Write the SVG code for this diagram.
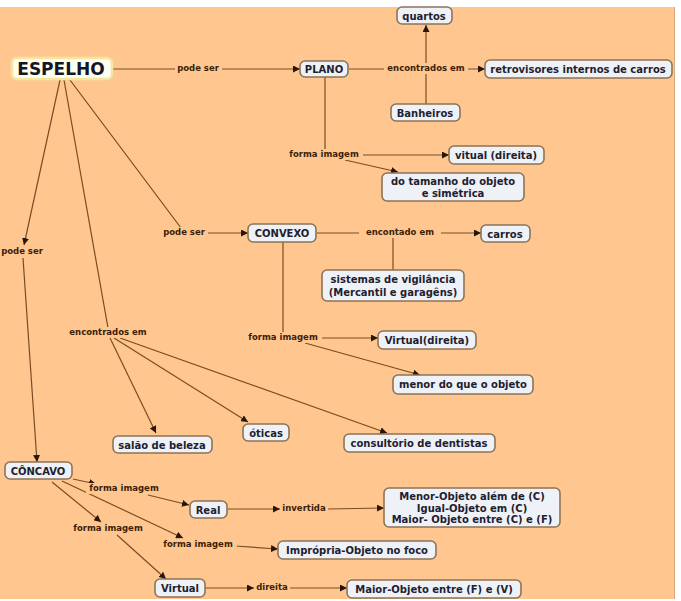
<svg xmlns="http://www.w3.org/2000/svg" width="681" height="601" viewBox="0 0 681 601">
<style>
.n rect{fill:#EEF2F6;stroke:#8C7358;stroke-width:1.6}
.n text{font-family:"DejaVu Sans",Verdana,sans-serif;font-weight:bold;font-size:10px;fill:#1E2030;text-anchor:middle}
.l rect{fill:#FFC78F;stroke:none}
.l text{font-family:"DejaVu Sans",Verdana,sans-serif;font-weight:bold;font-size:8.5px;fill:#3C1E08;text-anchor:middle}
#connectors line{stroke:#7A4C22;stroke-width:1.2;fill:none}
.a{marker-end:url(#ah)}
</style>
<defs>
<marker id="ah" viewBox="0 0 10 10" refX="10" refY="5" markerWidth="7" markerHeight="7" markerUnits="userSpaceOnUse" orient="auto">
<path d="M0,0 L10,5 L0,10 z" fill="#2A1606"/>
</marker>
</defs>
<rect x="0" y="0" width="681" height="601" fill="#FFFFFF"/>
<rect x="0" y="7" width="674" height="592" fill="#FFC78F"/>
<line x1="674.5" y1="7" x2="674.5" y2="599" stroke="#D9A878" stroke-width="1"/>

<g id="connectors">
<line x1="113" y1="69" x2="300" y2="69" class="a"/>
<line x1="349" y1="69" x2="485" y2="69" class="a"/>
<line x1="426" y1="104" x2="426" y2="25" class="a"/>
<line x1="325" y1="77" x2="325" y2="150"/>
<line x1="350" y1="155" x2="449" y2="155" class="a"/>
<line x1="345" y1="160" x2="398" y2="172" class="a"/>
<line x1="70" y1="80" x2="181" y2="228"/>
<line x1="208" y1="233" x2="248" y2="233" class="a"/>
<line x1="317" y1="233" x2="481" y2="233" class="a"/>
<line x1="393" y1="270" x2="393" y2="236"/>
<line x1="283" y1="242" x2="283" y2="334"/>
<line x1="310" y1="338" x2="378" y2="338" class="a"/>
<line x1="305" y1="343" x2="420" y2="375" class="a"/>
<line x1="60" y1="80" x2="24" y2="245" class="a"/>
<line x1="23" y1="258" x2="37" y2="462" class="a"/>
<line x1="64" y1="80" x2="108" y2="328"/>
<line x1="110" y1="338" x2="156" y2="433" class="a"/>
<line x1="114" y1="338" x2="248" y2="422" class="a"/>
<line x1="120" y1="338" x2="387" y2="433" class="a"/>
<line x1="73" y1="479" x2="96" y2="484" class="a"/>
<line x1="148" y1="495" x2="189" y2="505" class="a"/>
<line x1="52" y1="482" x2="101" y2="522" class="a"/>
<line x1="62" y1="481" x2="183" y2="538" class="a"/>
<line x1="117" y1="535" x2="166" y2="579" class="a"/>
<line x1="235" y1="546" x2="278" y2="549" class="a"/>
<line x1="228" y1="509" x2="280" y2="509" class="a"/>
<line x1="328" y1="509" x2="384" y2="508" class="a"/>
<line x1="205" y1="588" x2="254" y2="588" class="a"/>
<line x1="289" y1="588" x2="347" y2="588" class="a"/>
</g>

<g id="labels">
<g class="l"><rect x="175" y="63" width="47" height="11"/><text x="198" y="71">pode ser</text></g>
<g class="l"><rect x="384" y="63" width="84" height="11"/><text x="426" y="71">encontrados em</text></g>
<g class="l"><rect x="285" y="149" width="78" height="11"/><text x="324" y="157">forma imagem</text></g>
<g class="l"><rect x="160" y="227" width="48" height="11"/><text x="184" y="235">pode ser</text></g>
<g class="l"><rect x="359" y="227" width="82" height="11"/><text x="400" y="235">encontado em</text></g>
<g class="l"><rect x="244" y="332" width="78" height="11"/><text x="283" y="340">forma imagem</text></g>
<g class="l"><rect x="66" y="327" width="86" height="11"/><text x="108" y="335">encontrados em</text></g>
<g class="l"><rect x="0" y="246" width="46" height="11"/><text x="22" y="254">pode ser</text></g>
<g class="l"><rect x="86" y="483" width="77" height="11"/><text x="124" y="491">forma imagem</text></g>
<g class="l"><rect x="70" y="523" width="77" height="11"/><text x="108" y="531">forma imagem</text></g>
<g class="l"><rect x="159" y="539" width="78" height="11"/><text x="198" y="547">forma imagem</text></g>
<g class="l"><rect x="281" y="503" width="47" height="11"/><text x="304" y="511">invertida</text></g>
<g class="l"><rect x="254" y="582" width="36" height="11"/><text x="272" y="590">direita</text></g>
</g>

<g id="espelho"><rect x="12" y="58" width="100" height="21" rx="5" fill="#FFFEF0" stroke="#F3E6A0" stroke-width="2.5"/><text x="61" y="75" font-family="DejaVu Sans,Verdana,sans-serif" font-weight="bold" font-size="17" fill="#141626" text-anchor="middle">ESPELHO</text></g>
<g id="plano" class="n"><rect x="300" y="61" width="48" height="16" rx="5"/><text x="324" y="72.5">PLANO</text></g>
<g id="quartos" class="n"><rect x="397" y="7" width="55" height="17" rx="5"/><text x="424" y="19.5">quartos</text></g>
<g id="retrovisores" class="n"><rect x="485" y="60" width="187" height="18" rx="5"/><text x="578" y="73">retrovisores internos de carros</text></g>
<g id="banheiros" class="n"><rect x="391" y="104" width="69" height="17" rx="5"/><text x="425" y="116.5">Banheiros</text></g>
<g id="vitual" class="n"><rect x="449" y="146" width="95" height="18" rx="5"/><text x="496" y="159">vitual (direita)</text></g>
<g id="tamanho" class="n"><rect x="382" y="173" width="142" height="28" rx="5"/><text x="453" y="185">do tamanho do objeto</text><text x="453" y="197">e simétrica</text></g>
<g id="convexo" class="n"><rect x="248" y="224" width="68" height="18" rx="5"/><text x="282" y="237">CONVEXO</text></g>
<g id="carros" class="n"><rect x="481" y="225" width="49" height="17" rx="5"/><text x="505" y="237.5">carros</text></g>
<g id="sistemas" class="n"><rect x="322" y="270" width="142" height="31" rx="5"/><text x="393" y="283">sistemas de vigilância</text><text x="393" y="296">(Mercantil e garagêns)</text></g>
<g id="virtual-direita" class="n"><rect x="378" y="331" width="98" height="18" rx="5"/><text x="427" y="344">Virtual(direita)</text></g>
<g id="menor" class="n"><rect x="393" y="375" width="140" height="19" rx="5"/><text x="463" y="388">menor do que o objeto</text></g>
<g id="salao" class="n"><rect x="113" y="436" width="99" height="17" rx="5"/><text x="162" y="448.5">salão de beleza</text></g>
<g id="oticas" class="n"><rect x="243" y="424" width="46" height="17" rx="5"/><text x="266" y="436.5">óticas</text></g>
<g id="consultorio" class="n"><rect x="344" y="434" width="151" height="18" rx="5"/><text x="419" y="447">consultório de dentistas</text></g>
<g id="concavo" class="n"><rect x="5" y="462" width="67" height="17" rx="5"/><text x="38" y="474.5">CÔNCAVO</text></g>
<g id="real" class="n"><rect x="190" y="501" width="37" height="17" rx="5"/><text x="208" y="513.5">Real</text></g>
<g id="menor-objeto" class="n"><rect x="384" y="488" width="176" height="39" rx="5"/><text x="472" y="500">Menor-Objeto além de (C)</text><text x="472" y="511.5">Igual-Objeto em (C)</text><text x="472" y="523">Maior- Objeto entre (C) e (F)</text></g>
<g id="impropria" class="n"><rect x="278" y="541" width="158" height="18" rx="5"/><text x="357" y="554">Imprópria-Objeto no foco</text></g>
<g id="virtual" class="n"><rect x="155" y="579" width="50" height="18" rx="5"/><text x="180" y="592">Virtual</text></g>
<g id="maior" class="n"><rect x="347" y="580" width="174" height="18" rx="5"/><text x="434" y="593">Maior-Objeto entre (F) e (V)</text></g>
</svg>
